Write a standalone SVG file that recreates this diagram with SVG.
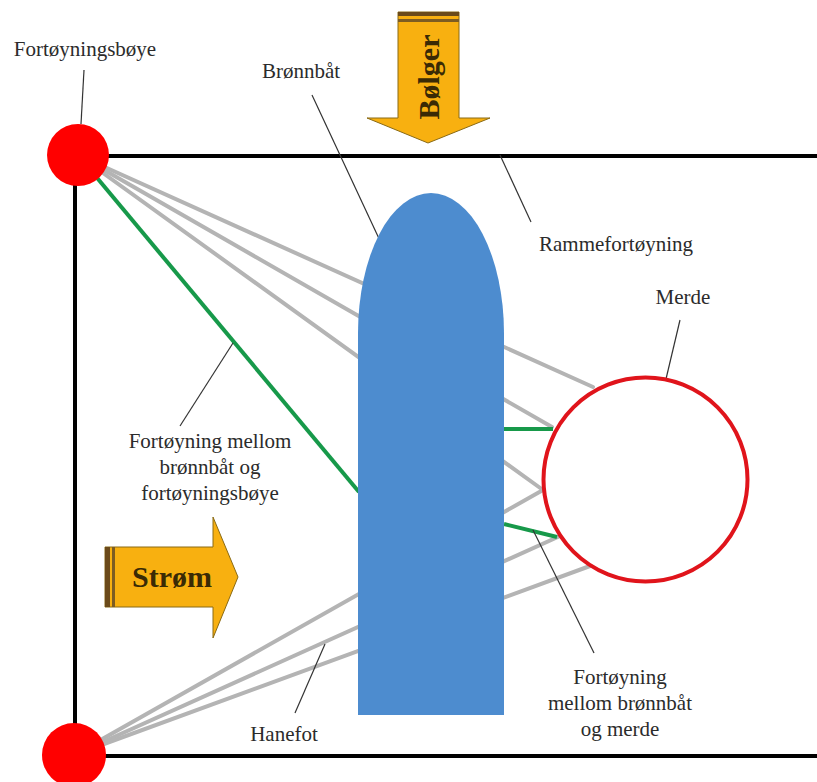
<svg xmlns="http://www.w3.org/2000/svg" width="817" height="782" viewBox="0 0 817 782">
<style>
.lbl{font-family:"Liberation Serif","Times New Roman",serif;font-size:21px;fill:#2b2b2b;text-anchor:middle}
.big{font-family:"Liberation Serif","Times New Roman",serif;font-size:30px;font-weight:bold;fill:#3a2a05;text-anchor:middle}
.frame{stroke:#000;stroke-width:4;fill:none}
.gray{stroke:#b4b4b4;stroke-width:4;fill:none;stroke-linecap:round}
.green{stroke:#17994a;stroke-width:4;fill:none}
.leader{stroke:#333;stroke-width:1.2;fill:none}
.arrow{fill:#f8b010;stroke:#8a6a14;stroke-width:1}
</style>
<rect width="817" height="782" fill="#fff"/>
<g id="frame">
<line class="frame" x1="76" y1="156" x2="817" y2="156"/>
<line class="frame" x1="75" y1="156" x2="75" y2="755"/>
<line class="frame" x1="75" y1="756" x2="817" y2="756"/>
</g>
<g id="connectors">
<line class="gray" x1="78" y1="155" x2="593" y2="387"/>
<line class="gray" x1="78" y1="155" x2="552" y2="427"/>
<line class="gray" x1="78" y1="155" x2="543" y2="490"/>
<line class="gray" x1="74" y1="755" x2="543" y2="490"/>
<line class="gray" x1="74" y1="755" x2="560" y2="536"/>
<line class="gray" x1="74" y1="755" x2="590" y2="566"/>
<line class="green" x1="78" y1="155" x2="359" y2="492"/>
<line class="green" x1="504" y1="429" x2="553" y2="429"/>
<line class="green" x1="504" y1="524" x2="557" y2="537"/>
<line class="leader" x1="84" y1="70" x2="81" y2="124"/>
<line class="leader" x1="312" y1="95" x2="382" y2="245"/>
<line class="leader" x1="500" y1="155" x2="531" y2="222"/>
<line class="leader" x1="680" y1="320" x2="666" y2="379"/>
<line class="leader" x1="233" y1="343" x2="180" y2="426"/>
<line class="leader" x1="533" y1="530" x2="594" y2="653"/>
<line class="leader" x1="325" y1="644" x2="295" y2="713"/>
</g>
<g id="bronnbat">
<path d="M358,715 L358,333 A73,140 0 0 1 504,333 L504,715 Z" fill="#4d8ccf"/>
</g>
<g id="merde">
<circle cx="645.5" cy="479.5" r="102" fill="#fff" stroke="#e0141b" stroke-width="4"/>
</g>
<g id="boye-top">
<circle cx="78" cy="155" r="31" fill="#ff0000"/>
</g>
<g id="boye-bottom">
<circle cx="74" cy="755" r="32" fill="#ff0000"/>
</g>
<g id="bolger">
<path class="arrow" d="M398,12 L459,12 L459,118 L490,118 L428,143 L367,118 L398,118 Z"/>
<rect x="398" y="12" width="61" height="4" fill="#6b4a1a"/>
<rect x="398" y="19" width="61" height="3" fill="#7d5c22"/>
<text class="big" transform="translate(439,77) rotate(-90)">Bølger</text>
</g>
<g id="strom">
<path class="arrow" d="M105,547 L213,547 L213,517 L238,577 L213,638 L213,607 L105,607 Z"/>
<rect x="105" y="547" width="5" height="60" fill="#6b4a1a"/>
<rect x="112" y="547" width="3" height="60" fill="#7d5c22"/>
<text class="big" x="172" y="587">Strøm</text>
</g>
<g id="labels">
<text class="lbl" x="85" y="56">Fortøyningsbøye</text>
<text class="lbl" x="301" y="78">Brønnbåt</text>
<text class="lbl" x="616" y="251">Rammefortøyning</text>
<text class="lbl" x="683" y="304">Merde</text>
<text class="lbl" x="210" y="448">Fortøyning mellom</text>
<text class="lbl" x="210" y="474">brønnbåt og</text>
<text class="lbl" x="210" y="500">fortøyningsbøye</text>
<text class="lbl" x="620" y="684">Fortøyning</text>
<text class="lbl" x="620" y="710">mellom brønnbåt</text>
<text class="lbl" x="620" y="736">og merde</text>
<text class="lbl" x="284" y="741">Hanefot</text>
</g>
</svg>
